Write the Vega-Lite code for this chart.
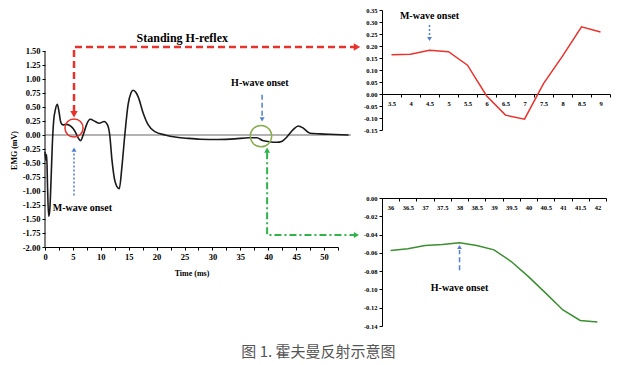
{
  "$schema": "https://vega.github.io/schema/vega-lite/v6.json",
  "padding": {"left": 10, "top": 7, "right": 5, "bottom": 5},
  "background": "white",
  "bounds": "flush",
  "spacing": 44,
  "config": {
    "view": {"stroke": null},
    "axis": {"labelFont": "Liberation Serif", "labelFontWeight": "bold", "titleFont": "Liberation Serif", "titleFontWeight": "bold", "grid": false, "domainColor": "#000", "tickColor": "#000", "labelColor": "#000", "titleColor": "#000", "domainWidth": 1, "tickWidth": 1}
  },
  "title": {"text": "图 1. 霍夫曼反射示意图", "orient": "bottom", "anchor": "middle", "font": "Noto Sans CJK SC", "fontSize": 15, "fontWeight": "normal", "color": "#555555", "offset": 15, "dx": 8},
  "datasets": {
    "emg": [
      {"t": 0, "v": -0.3}, {"t": 0.15, "v": -0.45}, {"t": 0.3, "v": -0.35}, {"t": 0.45, "v": -0.9}, {"t": 0.65, "v": -1.45}, {"t": 0.85, "v": -1.35}, {"t": 1.05, "v": -0.9}, {"t": 1.3, "v": -0.2}, {"t": 1.55, "v": 0.25}, {"t": 1.85, "v": 0.45}, {"t": 2.2, "v": 0.55}, {"t": 2.5, "v": 0.42}, {"t": 2.85, "v": 0.22}, {"t": 3.2, "v": 0.18}, {"t": 3.9, "v": 0.19}, {"t": 4.6, "v": 0.16}, {"t": 5.0, "v": 0.12}, {"t": 5.4, "v": 0.06}, {"t": 6.0, "v": -0.06}, {"t": 6.4, "v": -0.1}, {"t": 6.9, "v": 0.02}, {"t": 7.5, "v": 0.2}, {"t": 8.1, "v": 0.28}, {"t": 9.0, "v": 0.24}, {"t": 9.7, "v": 0.21}, {"t": 10.6, "v": 0.24}, {"t": 11.2, "v": 0.18}, {"t": 11.6, "v": 0.0}, {"t": 12.0, "v": -0.45}, {"t": 12.6, "v": -0.85}, {"t": 13.3, "v": -0.96}, {"t": 13.8, "v": -0.55}, {"t": 14.3, "v": 0.0}, {"t": 14.9, "v": 0.55}, {"t": 15.4, "v": 0.75}, {"t": 15.8, "v": 0.8}, {"t": 16.3, "v": 0.76}, {"t": 16.7, "v": 0.68}, {"t": 17.6, "v": 0.39}, {"t": 18.5, "v": 0.18}, {"t": 19.7, "v": 0.06}, {"t": 21.5, "v": 0.0}, {"t": 23.6, "v": -0.04}, {"t": 25.6, "v": -0.06}, {"t": 27.8, "v": -0.075}, {"t": 31, "v": -0.08}, {"t": 34, "v": -0.07}, {"t": 36.5, "v": -0.05}, {"t": 38, "v": -0.05}, {"t": 39, "v": -0.1}, {"t": 40.2, "v": -0.12}, {"t": 41.5, "v": -0.13}, {"t": 42.5, "v": -0.11}, {"t": 43.3, "v": -0.04}, {"t": 44.5, "v": 0.1}, {"t": 45.4, "v": 0.16}, {"t": 46.3, "v": 0.12}, {"t": 47.5, "v": 0.03}, {"t": 49.3, "v": 0.02}, {"t": 52, "v": 0.01}, {"t": 54.4, "v": 0.0}
    ],
    "mwave": [
      {"t": 3.5, "v": 0.164}, {"t": 4, "v": 0.166}, {"t": 4.5, "v": 0.182}, {"t": 5, "v": 0.176}, {"t": 5.5, "v": 0.12}, {"t": 6, "v": -0.007}, {"t": 6.5, "v": -0.088}, {"t": 7, "v": -0.105}, {"t": 7.5, "v": 0.043}, {"t": 8, "v": 0.158}, {"t": 8.5, "v": 0.28}, {"t": 9, "v": 0.258}
    ],
    "hwave": [
      {"t": 36, "v": -0.0574}, {"t": 36.5, "v": -0.0556}, {"t": 37, "v": -0.052}, {"t": 37.5, "v": -0.0508}, {"t": 38, "v": -0.049}, {"t": 38.5, "v": -0.052}, {"t": 39, "v": -0.0567}, {"t": 39.5, "v": -0.0695}, {"t": 40, "v": -0.086}, {"t": 40.5, "v": -0.104}, {"t": 41, "v": -0.1225}, {"t": 41.5, "v": -0.134}, {"t": 42, "v": -0.1357}
    ]
  },
  "hconcat": [
    {
      "width": 293,
      "height": 237,
      "encoding": {
        "x": {"field": "t", "type": "quantitative", "scale": {"domain": [0, 52.5], "nice": false, "zero": false},
          "axis": {"values": [0, 2.5, 5, 7.5, 10, 12.5, 15, 17.5, 20, 22.5, 25, 27.5, 30, 32.5, 35, 37.5, 40, 42.5, 45, 47.5, 50, 52.5], "labelExpr": "datum.value % 5 == 0 ? datum.label : ''", "title": "Time (ms)", "titleFontSize": 8, "labelFontSize": 8.5, "tickSize": 3, "labelPadding": 2, "titlePadding": 9, "labelFlush": false}},
        "y": {"field": "v", "type": "quantitative", "scale": {"domain": [-2, 2.232], "nice": false, "zero": false},
          "axis": {"values": [-2, -1.75, -1.5, -1.25, -1, -0.75, -0.5, -0.25, 0, 0.25, 0.5, 0.75, 1, 1.25, 1.5], "labelExpr": "datum.value < 0 ? '-' + format(-datum.value, '.2f') : format(datum.value, '.2f')", "domain": false, "title": "EMG (mV)", "titleFontSize": 8, "titleY": 140, "titlePadding": 4, "labelFontSize": 8.5, "tickSize": 3, "labelPadding": 2, "labelFlush": false}}
      },
      "layer": [
        {"data": {"values": [{"t": 0, "t2": 54.8, "v": 0}]}, "mark": {"type": "rule", "color": "#9a9a9a", "strokeWidth": 1.5, "clip": false}, "encoding": {"x2": {"field": "t2"}}},
        {"data": {"values": [{"t": 0, "v": -2, "v2": 1.5}]}, "mark": {"type": "rule", "color": "#000", "strokeWidth": 1}, "encoding": {"y2": {"field": "v2"}}},
        {"data": {"name": "emg"}, "mark": {"type": "line", "color": "#1a1a1a", "strokeWidth": 1.6, "interpolate": "monotone", "clip": false}, "encoding": {}},
        {"data": {"values": [{"t": 5.2, "v": 0.125}]}, "mark": {"type": "point", "shape": "circle", "size": 330, "filled": false, "stroke": "#e8322c", "strokeWidth": 1.5, "opacity": 1}, "encoding": {}},
        {"data": {"values": [{"t": 38.7, "v": -0.02}]}, "mark": {"type": "point", "shape": "circle", "size": 460, "filled": false, "stroke": "#86ad4e", "strokeWidth": 1.5, "opacity": 1}, "encoding": {}},
        {"data": {"values": [{"t": 5.2, "v": 0.41, "o": 1}, {"t": 5.2, "v": 1.571, "o": 2}, {"t": 55.5, "v": 1.571, "o": 3}]}, "mark": {"type": "line", "color": "#e8322c", "strokeWidth": 2.5, "strokeDash": [7, 4], "clip": false}, "encoding": {"order": {"field": "o"}}},
        {"data": {"values": [{"t": 5.2, "v": 0.37}]}, "mark": {"type": "point", "shape": "triangle-down", "size": 55, "filled": true, "color": "#e8322c", "opacity": 1}, "encoding": {}},
        {"data": {"values": [{"t": 55.9, "v": 1.571}]}, "mark": {"type": "point", "shape": "triangle-right", "size": 55, "filled": true, "color": "#e8322c", "opacity": 1, "clip": false}, "encoding": {}},
        {"data": {"values": [{"t": 39.8, "v": -0.31, "o": 1}, {"t": 39.8, "v": -1.786, "o": 2}, {"t": 55.4, "v": -1.786, "o": 3}]}, "mark": {"type": "line", "color": "#2fb34a", "strokeWidth": 2, "strokeDash": [7, 3, 2, 3], "clip": false}, "encoding": {"order": {"field": "o"}}},
        {"data": {"values": [{"t": 39.8, "v": -0.27}]}, "mark": {"type": "point", "shape": "triangle-up", "size": 35, "filled": true, "color": "#2fb34a", "opacity": 1}, "encoding": {}},
        {"data": {"values": [{"t": 55.8, "v": -1.786}]}, "mark": {"type": "point", "shape": "triangle-right", "size": 35, "filled": true, "color": "#2fb34a", "opacity": 1, "clip": false}, "encoding": {}},
        {"data": {"values": [{"t": 5.2, "v": -1.08, "v2": -0.3}]}, "mark": {"type": "rule", "color": "#4f7fd0", "strokeWidth": 1.5, "strokeDash": [2, 2]}, "encoding": {"y2": {"field": "v2"}}},
        {"data": {"values": [{"t": 5.2, "v": -0.26}]}, "mark": {"type": "point", "shape": "triangle-up", "size": 25, "filled": true, "color": "#4f7fd0", "opacity": 1}, "encoding": {}},
        {"data": {"values": [{"t": 38.9, "v": 0.72, "v2": 0.31}]}, "mark": {"type": "rule", "color": "#4f7fd0", "strokeWidth": 1.5, "strokeDash": [5, 3]}, "encoding": {"y2": {"field": "v2"}}},
        {"data": {"values": [{"t": 38.9, "v": 0.28}]}, "mark": {"type": "point", "shape": "triangle-down", "size": 25, "filled": true, "color": "#4f7fd0", "opacity": 1}, "encoding": {}},
        {"data": {"values": [{"t": 24.6, "v": 1.732, "label": "Standing H-reflex"}]}, "mark": {"type": "text", "font": "Liberation Serif", "fontWeight": "bold", "fontSize": 12, "color": "#000", "align": "center", "baseline": "middle"}, "encoding": {"text": {"field": "label"}}},
        {"data": {"values": [{"t": 38.5, "v": 0.93, "label": "H-wave onset"}]}, "mark": {"type": "text", "font": "Liberation Serif", "fontWeight": "bold", "fontSize": 10, "color": "#000", "align": "center", "baseline": "middle"}, "encoding": {"text": {"field": "label"}}},
        {"data": {"values": [{"t": 1.4, "v": -1.3, "label": "M-wave onset"}]}, "mark": {"type": "text", "font": "Liberation Serif", "fontWeight": "bold", "fontSize": 10, "color": "#000", "align": "left", "baseline": "middle"}, "encoding": {"text": {"field": "label"}}}
      ]
    },
    {
      "bounds": "flush",
      "spacing": 68,
      "vconcat": [
        {
          "width": 228,
          "height": 120,
          "encoding": {
            "x": {"field": "t", "type": "ordinal", "scale": {"type": "band", "paddingInner": 0, "paddingOuter": 0, "domain": [3.5, 4, 4.5, 5, 5.5, 6, 6.5, 7, 7.5, 8, 8.5, 9]}, "bandPosition": 0.5,
              "axis": {"orient": "bottom", "offset": -36, "title": null, "labelAngle": 0, "tickBand": "extent", "labelFontSize": 6.5, "tickSize": 3, "labelPadding": 3}},
            "y": {"field": "v", "type": "quantitative", "scale": {"domain": [-0.15, 0.35], "nice": false, "zero": false},
              "axis": {"values": [-0.15, -0.1, -0.05, 0, 0.05, 0.1, 0.15, 0.2, 0.25, 0.3, 0.35], "labelExpr": "datum.value < 0 ? '-' + format(-datum.value, '.2f') : format(datum.value, '.2f')", "title": null, "labelFontSize": 6.5, "tickSize": 3, "labelPadding": 2, "labelFlush": false}}
          },
          "layer": [
            {"data": {"name": "mwave"}, "mark": {"type": "line", "color": "#e8322c", "strokeWidth": 1.5}, "encoding": {}},
            {"data": {"values": [{"t": 4.5, "v": 0.288, "v2": 0.238}]}, "mark": {"type": "rule", "color": "#4f7fd0", "strokeWidth": 1.5, "strokeDash": [2, 2]}, "encoding": {"y2": {"field": "v2"}}},
            {"data": {"values": [{"t": 4.5, "v": 0.229}]}, "mark": {"type": "point", "shape": "triangle-down", "size": 22, "filled": true, "color": "#4f7fd0", "opacity": 1}, "encoding": {}},
            {"data": {"values": [{"t": 4.5, "v": 0.325, "label": "M-wave onset"}]}, "mark": {"type": "text", "font": "Liberation Serif", "fontWeight": "bold", "fontSize": 10, "color": "#000", "align": "center", "baseline": "middle"}, "encoding": {"text": {"field": "label"}}}
          ]
        },
        {
          "width": 224,
          "height": 128,
          "encoding": {
            "x": {"field": "t", "type": "ordinal", "scale": {"type": "band", "paddingInner": 0, "paddingOuter": 0, "domain": [36, 36.5, 37, 37.5, 38, 38.5, 39, 39.5, 40, 40.5, 41, 41.5, 42]}, "bandPosition": 0.5,
              "axis": {"orient": "bottom", "offset": -128, "title": null, "labelAngle": 0, "tickBand": "extent", "labelFontSize": 6.5, "tickSize": 3, "labelPadding": 3}},
            "y": {"field": "v", "type": "quantitative", "scale": {"domain": [-0.14, 0], "nice": false, "zero": false},
              "axis": {"values": [-0.14, -0.12, -0.1, -0.08, -0.06, -0.04, -0.02, 0], "labelExpr": "datum.value < 0 ? '-' + format(-datum.value, '.2f') : format(datum.value, '.2f')", "title": null, "labelFontSize": 6.5, "tickSize": 3, "labelPadding": 2, "labelFlush": false}}
          },
          "layer": [
            {"data": {"name": "hwave"}, "mark": {"type": "line", "color": "#3a8f2f", "strokeWidth": 1.5}, "encoding": {}},
            {"data": {"values": [{"t": 38, "v": -0.079, "v2": -0.057}]}, "mark": {"type": "rule", "color": "#4f7fd0", "strokeWidth": 1.5, "strokeDash": [5, 3]}, "encoding": {"y2": {"field": "v2"}}},
            {"data": {"values": [{"t": 38, "v": -0.0535}]}, "mark": {"type": "point", "shape": "triangle-up", "size": 22, "filled": true, "color": "#4f7fd0", "opacity": 1}, "encoding": {}},
            {"data": {"values": [{"t": 38, "v": -0.0984, "label": "H-wave onset"}]}, "mark": {"type": "text", "font": "Liberation Serif", "fontWeight": "bold", "fontSize": 10, "color": "#000", "align": "center", "baseline": "middle"}, "encoding": {"text": {"field": "label"}}}
          ]
        }
      ]
    }
  ]
}
